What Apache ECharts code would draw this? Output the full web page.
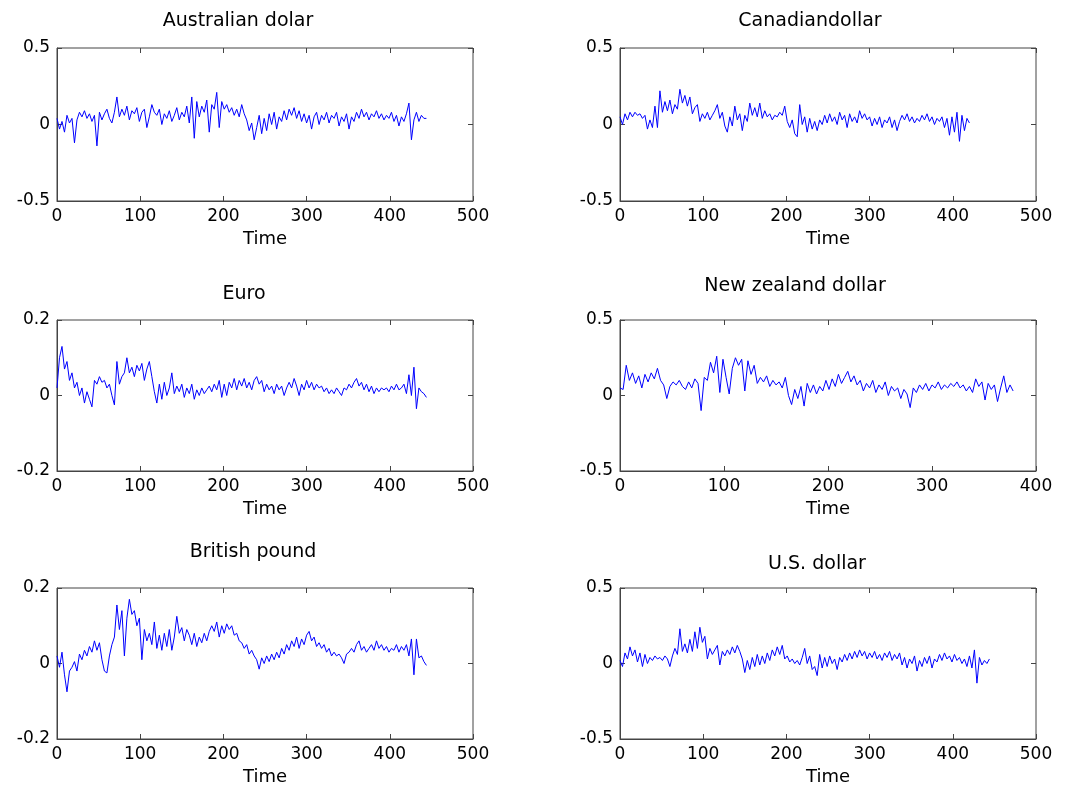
<!DOCTYPE html>
<html>
<head>
<meta charset="utf-8">
<script src="https://cdn.jsdelivr.net/npm/echarts@6/dist/echarts.min.js"></script>
<style>
    html, body { margin: 0; padding: 0; background: #fff; }
    #main { width: 1077px; height: 789px; }
</style>
</head>
<body>
<div id="main"></div>
<script>
// one sample every STEP time units
const STEP = 3;

const titles = ['Australian dolar', 'Canadiandollar', 'Euro', 'New zealand dollar', 'British pound', 'U.S. dollar'];
const xMaxList = [500, 500, 500, 400, 500, 500];
const yLimitList = [0.5, 0.5, 0.2, 0.5, 0.2, 0.5];
const xLabel = 'Time';

const audValues = [
    0.04, -0.03, 0.02, -0.05, 0.06, 0.01, 0.04, -0.12, 0.03, 0.08, 0.05,
    0.09, 0.04, 0.07, 0.02, 0.06, -0.14, 0.08, 0.03, 0.07, 0.1, 0.04, 0.01, 0.08,
    0.18, 0.05, 0.1, 0.06, 0.12, 0.03, 0.09, 0.07, 0.11, 0.02, 0.08, 0.1,
    -0.02, 0.05, 0.13, 0.08, 0.06,
    0.1, 0.0, 0.07, 0.04, 0.09, 0.02, 0.06, 0.11, 0.03, 0.08, 0.05, 0.12, 0.01,
    0.18, -0.09, 0.15, 0.05, 0.12, 0.08, 0.16, -0.05, 0.13, 0.1,
    0.21, -0.02, 0.15, 0.1, 0.13, 0.08, 0.11, 0.06, 0.1, 0.05, 0.13, 0.07, 0.03,
    -0.04, 0.01, -0.1, -0.02, 0.06, -0.06, 0.04, -0.04, 0.07, 0.0, 0.08, -0.03,
    0.05, 0.02, 0.09, 0.03, 0.1, 0.06, 0.11, 0.04, 0.09, 0.02, 0.07, 0.01, 0.06,
    -0.03, 0.05, 0.08, 0.0, 0.06, 0.03, 0.08, 0.01, 0.06, 0.04, 0.08, -0.01, 0.05,
    0.02, 0.07, -0.03, 0.05, 0.02, 0.08, 0.04, 0.1, 0.05, 0.08, 0.03, 0.07, 0.05,
    0.09, 0.04, 0.07, 0.03, 0.06, 0.04, 0.08, 0.02, 0.06, -0.01, 0.05, 0.02, 0.07,
    0.14, -0.1, 0.03, 0.08, 0.02, 0.06, 0.04, 0.04
];

const cadValues = [
    0.05, 0.0, 0.07, 0.03, 0.08, 0.05, 0.08, 0.06, 0.07, 0.04, 0.06, -0.03,
    0.03, -0.02, 0.12, -0.02, 0.22, 0.08, 0.15, 0.09, 0.16, 0.07, 0.13, 0.1,
    0.23, 0.14, 0.19, 0.12, 0.18, 0.07, 0.11, 0.13, 0.02, 0.07, 0.04, 0.08,
    0.03, 0.06, 0.09, 0.13, 0.04, 0.08, -0.01, -0.05, 0.05, -0.01, 0.12, 0.03,
    0.07, -0.04, 0.06, 0.02, 0.14, 0.06, 0.11, 0.05, 0.14, 0.04, 0.09, 0.05,
    0.07, 0.03, 0.06, 0.05, 0.08, 0.06, 0.12, 0.02, -0.02, 0.03, -0.06, -0.08,
    0.13, 0.0, 0.05, -0.05, 0.04, -0.03, 0.02, -0.04, 0.03, 0.0, 0.06, 0.01,
    0.07, 0.02, 0.05, 0.0, 0.08, 0.03, 0.06, -0.02, 0.07, 0.02, 0.05, 0.01,
    0.09, 0.04, 0.07, 0.03, 0.05, -0.01, 0.04, 0.0, 0.05, -0.02, 0.03, 0.01,
    0.05, -0.02, 0.03, -0.04, 0.02, 0.06, 0.03, 0.07, 0.02, 0.05, 0.01, 0.04,
    0.02, 0.06, 0.03, 0.07, 0.02, 0.05, 0.0, 0.04, 0.02, 0.05, -0.02, 0.04,
    -0.07, 0.05, -0.05, 0.08, -0.11, 0.06, -0.04, 0.04, 0.01
];

const eurValues = [
    0.02, 0.1, 0.13, 0.07, 0.09, 0.04, 0.06, 0.02, 0.035, 0.0, 0.02, -0.02,
    0.01, -0.01, -0.03, 0.04, 0.03, 0.05, 0.035, 0.04, 0.02, 0.03, 0.0, -0.025,
    0.09, 0.03, 0.05, 0.06, 0.1, 0.06, 0.075, 0.05, 0.08, 0.065, 0.085, 0.04,
    0.07, 0.09, 0.05, 0.01, -0.02, 0.03, -0.01, 0.035, 0.0, 0.02, 0.06, 0.005,
    0.025, 0.01, 0.03, -0.005, 0.02, 0.005, 0.03, -0.01, 0.015, 0.0, 0.02, 0.005,
    0.015, 0.025, 0.01, 0.03, 0.015, 0.04, -0.005, 0.03, 0.0, 0.035, 0.02, 0.045,
    0.015, 0.04, 0.025, 0.045, 0.02, 0.035, 0.015, 0.04, 0.05, 0.03, 0.04, 0.01,
    0.03, 0.015, 0.025, 0.005, 0.03, 0.015, 0.025, 0.0, 0.02, 0.035, 0.02, 0.045,
    0.025, 0.0, 0.03, 0.015, 0.04, 0.02, 0.035, 0.015, 0.03, 0.02, 0.025, 0.01,
    0.02, 0.005, 0.015, 0.005, 0.02, 0.01, 0.0, 0.02, 0.015, 0.03, 0.02, 0.035,
    0.045, 0.025, 0.035, 0.015, 0.03, 0.01, 0.025, 0.005, 0.02, 0.01, 0.02, 0.015,
    0.02, 0.01, 0.025, 0.015, 0.03, 0.015, 0.02, 0.03, 0.005, 0.055, 0.0, 0.075,
    -0.035, 0.02, 0.01, 0.005, -0.005
];

const nzdValues = [
    0.05, 0.04, 0.2, 0.1, 0.15, 0.08, 0.13, 0.05, 0.14, 0.09, 0.15, 0.11,
    0.18, 0.1, 0.07, -0.02, 0.06, 0.09, 0.07, 0.1, 0.06, 0.04, 0.09, 0.05,
    0.11, 0.08, -0.1, 0.12, 0.1, 0.22, 0.15, 0.26, 0.02, 0.24, 0.12, 0.01,
    0.18, 0.25, 0.2, 0.24, 0.03, 0.23, 0.14, 0.2, 0.08, 0.12, 0.09, 0.13,
    0.06, 0.1, 0.07, 0.09, 0.05, 0.12, 0.0, -0.06, 0.04, -0.02, 0.06, -0.07,
    0.08, 0.02, 0.07, 0.01, 0.06, 0.03, 0.1, 0.04, 0.11, 0.06, 0.14, 0.08,
    0.12, 0.16, 0.09, 0.13, 0.07, 0.1, 0.03, 0.08, 0.05, 0.1, 0.02, 0.07,
    0.04, 0.09, 0.0, 0.06, 0.03, 0.05, -0.02, 0.04, 0.01, -0.08, 0.05, 0.02,
    0.07, 0.04, 0.08, 0.03, 0.07, 0.05, 0.09, 0.04, 0.07, 0.05, 0.08, 0.06,
    0.09, 0.05, 0.07, 0.03, 0.06, 0.02, 0.11, 0.06, 0.09, -0.03, 0.08, 0.04,
    0.07, -0.04, 0.05, 0.13, 0.02, 0.07, 0.03
];

const gbpValues = [
    0.02, -0.01, 0.03, -0.03, -0.075, -0.02, -0.01, 0.005, -0.02, 0.025, 0.01, 0.035,
    0.02, 0.045, 0.03, 0.06, 0.035, 0.055, 0.01, -0.02, -0.025, 0.02, 0.05, 0.07,
    0.155, 0.09, 0.14, 0.02, 0.12, 0.17, 0.13, 0.14, 0.1, 0.12, 0.01, 0.09,
    0.06, 0.08, 0.05, 0.11, 0.04, 0.075, 0.035, 0.08, 0.045, 0.09, 0.035, 0.07,
    0.125, 0.08, 0.095, 0.06, 0.09, 0.075, 0.05, 0.08, 0.045, 0.07, 0.055, 0.08,
    0.06, 0.085, 0.1, 0.085, 0.11, 0.07, 0.1, 0.08, 0.105, 0.09, 0.1, 0.075,
    0.08, 0.06, 0.055, 0.04, 0.05, 0.025, 0.035, 0.02, 0.01, -0.015, 0.015, 0.0,
    0.02, 0.005, 0.025, 0.01, 0.03, 0.015, 0.04, 0.025, 0.05, 0.035, 0.06, 0.045,
    0.07, 0.04, 0.065, 0.05, 0.075, 0.085, 0.06, 0.07, 0.045, 0.055, 0.04, 0.05,
    0.03, 0.04, 0.02, 0.03, 0.02, 0.025, 0.015, 0.0, 0.025, 0.03, 0.04, 0.03,
    0.05, 0.06, 0.035, 0.045, 0.03, 0.04, 0.05, 0.035, 0.06, 0.04, 0.05, 0.035,
    0.045, 0.03, 0.04, 0.035, 0.05, 0.03, 0.045, 0.035, 0.05, 0.02, 0.065, -0.03,
    0.065, 0.015, 0.02, 0.005, -0.005
];

const usdValues = [
    0.02, -0.02, 0.07, 0.03, 0.11, 0.05, 0.09, 0.01, 0.07, -0.02, 0.06, 0.0,
    0.04, 0.02, 0.05, 0.03, 0.04, 0.02, 0.05, 0.03, -0.02, 0.05, 0.1, 0.06,
    0.23, 0.08, 0.13, 0.07, 0.16, 0.08, 0.21, 0.1, 0.24, 0.14, 0.18, 0.03,
    0.1, 0.06, 0.09, 0.12, -0.01, 0.08, 0.05, 0.09, 0.06, 0.11, 0.07, 0.12,
    0.08, 0.03, -0.06, 0.02, -0.04, 0.04, -0.02, 0.06, -0.01, 0.05, 0.0, 0.07,
    0.02, 0.09, 0.05, 0.11, 0.06, 0.12, 0.03, 0.05, 0.01, 0.03, 0.0, 0.02,
    -0.01, 0.04, 0.1, 0.0, 0.05, -0.04, -0.02, -0.08, 0.06, -0.03, 0.04, -0.02,
    0.05, 0.0, 0.03, -0.04, 0.04, 0.01, 0.06, 0.02, 0.07, 0.03, 0.08, 0.04,
    0.09, 0.05, 0.08, 0.03, 0.07, 0.04, 0.08, 0.03, 0.06, 0.02, 0.07, 0.04,
    0.08, 0.02, 0.06, 0.03, 0.07, -0.01, 0.04, -0.03, 0.03, 0.0, 0.05, -0.05,
    0.02, -0.02, 0.04, 0.0, 0.05, -0.03, 0.03, 0.01, 0.06, 0.02, 0.07, 0.03,
    0.05, 0.01, 0.06, 0.02, 0.04, 0.0, 0.03, -0.02, 0.05, -0.03, 0.09, -0.13,
    0.04, -0.01, 0.02, 0.0, 0.03
];

const seriesValues = [audValues, cadValues, eurValues, nzdValues, gbpValues, usdValues];

// panel boxes: [left, top, width, height]
const boxes = [
    [57, 48, 416, 153], [620, 48, 416, 153],
    [57, 320, 416, 151], [620, 320, 416, 151],
    [57, 588, 416, 151], [620, 588, 416, 151]
];
// title centres
const titlePos = [[238, 21], [810, 21], [244, 294], [795, 286], [253, 552], [817, 564]];

displayPanels();

function displayPanels() {
    let myChart = echarts.init(document.getElementById('main'));

    const font = 'DejaVu Sans';
    const axisColor = '#444';
    let grid = [], xAxis = [], yAxis = [], series = [], graphic = [];

    boxes.forEach(function (b, k) {
        grid.push({
            left: b[0], top: b[1], width: b[2], height: b[3],
            show: true, borderColor: axisColor, borderWidth: 1, backgroundColor: '#fff'
        });
    });

    // bottom / left axes with labels
    boxes.forEach(function (b, k) {
        xAxis.push({
            type: 'value', gridIndex: k, min: 0, max: xMaxList[k], interval: 100,
            position: 'bottom',
            name: xLabel, nameLocation: 'middle', nameGap: 29,
            nameTextStyle: { fontFamily: font, fontSize: 18, color: '#000' },
            axisLine: { show: true, onZero: false, lineStyle: { color: axisColor } },
            axisTick: { show: true, inside: true, length: 5, lineStyle: { color: axisColor } },
            axisLabel: { margin: 7, fontFamily: font, fontSize: 17, color: '#000' },
            splitLine: { show: false }
        });
        yAxis.push({
            type: 'value', gridIndex: k, min: -yLimitList[k], max: yLimitList[k], interval: yLimitList[k],
            position: 'left',
            axisLine: { show: true, onZero: false, lineStyle: { color: axisColor } },
            axisTick: { show: true, inside: true, length: 5, lineStyle: { color: axisColor } },
            axisLabel: { margin: 7, fontFamily: font, fontSize: 17, color: '#000' },
            splitLine: { show: false }
        });
    });

    // mirrored ticks on top / right
    boxes.forEach(function (b, k) {
        xAxis.push({
            type: 'value', gridIndex: k, min: 0, max: xMaxList[k], interval: 100,
            position: 'top',
            axisLine: { show: false, onZero: false },
            axisTick: { show: true, inside: true, length: 5, lineStyle: { color: axisColor } },
            axisLabel: { show: false },
            splitLine: { show: false }
        });
        yAxis.push({
            type: 'value', gridIndex: k, min: -yLimitList[k], max: yLimitList[k], interval: yLimitList[k],
            position: 'right',
            axisLine: { show: false, onZero: false },
            axisTick: { show: true, inside: true, length: 5, lineStyle: { color: axisColor } },
            axisLabel: { show: false },
            splitLine: { show: false }
        });
    });

    seriesValues.forEach(function (vals, k) {
        series.push({
            name: titles[k],
            type: 'line',
            xAxisIndex: k,
            yAxisIndex: k,
            symbol: 'none',
            lineStyle: { color: '#0000ff', width: 1 },
            data: vals.map(function (v, i) { return [i * STEP, v]; })
        });
        graphic.push({
            type: 'text',
            x: titlePos[k][0],
            y: titlePos[k][1],
            style: {
                text: titles[k],
                fontFamily: font,
                fontSize: 19,
                fill: '#000',
                align: 'center',
                verticalAlign: 'middle'
            }
        });
    });

    let option = {
        backgroundColor: '#fff',
        animation: false,
        grid: grid,
        xAxis: xAxis,
        yAxis: yAxis,
        series: series,
        graphic: graphic
    };

    myChart.setOption(option);
}
</script>
</body>
</html>
